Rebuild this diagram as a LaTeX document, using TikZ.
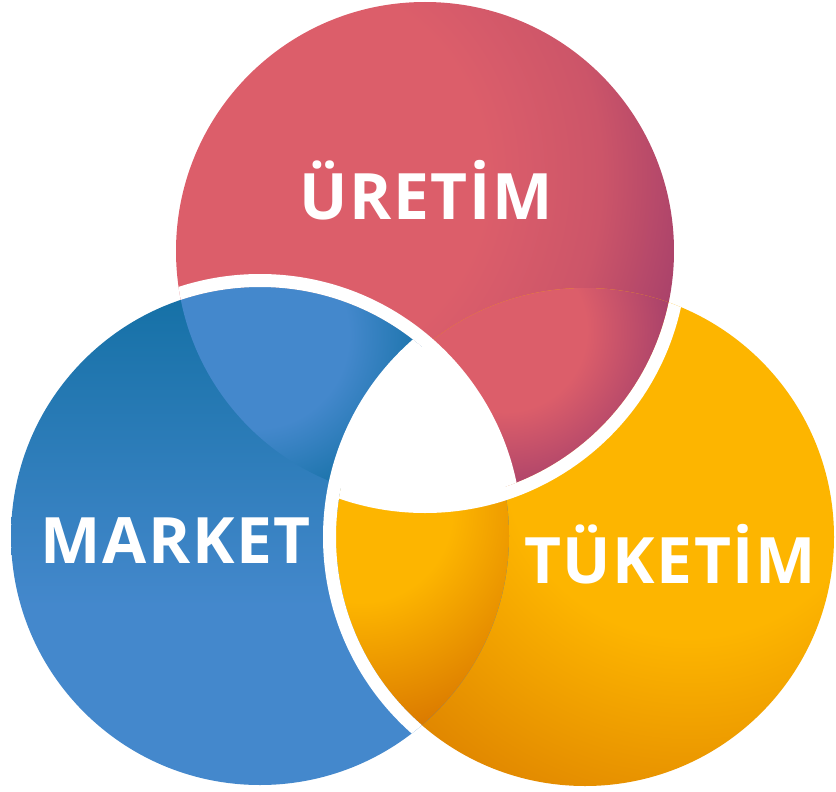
\documentclass[tikz,border=0pt]{standalone}
\usepackage{fontspec}
\newfontfamily\lblfont{Open Sans}[LetterSpace=2.5]
\definecolor{redA}{HTML}{DC5E6A}
\definecolor{redM}{HTML}{CC5569}
\definecolor{redB}{HTML}{A6406A}
\definecolor{blueL}{HTML}{4488CC}
\definecolor{blueD}{HTML}{1470A5}
\definecolor{yelL}{HTML}{FDB500}
\definecolor{yelD}{HTML}{E08600}
\definecolor{yelDD}{HTML}{D97700}
\pgfdeclareradialshading{redmain}{\pgfpoint{0bp}{0bp}}{color(0bp)=(redA); color(12bp)=(redA); color(19bp)=(redM); color(25bp)=(redB); color(50bp)=(redB)}
\pgfdeclareradialshading{redlens}{\pgfpoint{0bp}{0bp}}{color(0bp)=(redA); color(12bp)=(redA); color(25bp)=(redB); color(50bp)=(redB)}
\pgfdeclareverticalshading{bluemain}{100bp}{color(0bp)=(blueL); color(25bp)=(blueL); color(43bp)=(blueL); color(75bp)=(blueD); color(100bp)=(blueD)}
\pgfdeclareradialshading{bluelens}{\pgfpoint{0bp}{0bp}}{color(0bp)=(blueL); color(13bp)=(blueL); color(25bp)=(blueD); color(50bp)=(blueD)}
\pgfdeclareradialshading{yelmain}{\pgfpoint{0bp}{0bp}}{color(0bp)=(yelL); color(12bp)=(yelL); color(25bp)=(yelD); color(50bp)=(yelD)}
\pgfdeclareradialshading{yellens}{\pgfpoint{0bp}{0bp}}{color(0bp)=(yelL); color(10bp)=(yelL); color(25bp)=(yelDD); color(50bp)=(yelDD)}
\begin{document}
\begin{tikzpicture}[x=1pt,y=-1pt,
  lbl/.style={text=white, font=\lblfont\bfseries\fontsize{64}{64}\selectfont, inner sep=0pt, anchor=base},
  gap/.style={draw=white, line width=13pt}]
\def\rr{249pt}
\def\rw{255.5pt}
\def\rt{250.5pt}
\useasboundingbox (0,0) rectangle (836,792);
\fill[white] (0,0) rectangle (836,792);
\coordinate (R) at (425,251);
\coordinate (B) at (260,536);
\coordinate (Y) at (585,537);
% main disks
\begin{scope}
  \clip (R) circle (\rr);
  \shade[shading=redmain] (290,175) circle (410pt);
\end{scope}
\begin{scope}
  \clip (Y) circle (\rr);
  \shade[shading=yelmain] (690,450) circle (390pt);
\end{scope}
\begin{scope}
  \clip (B) circle (\rr);
  \shade[shading=bluemain] (11,287) rectangle (509,785);
\end{scope}
% lenses
\begin{scope}
  \clip (R) circle (\rr);
  \clip (Y) circle (\rr);
  \shade[shading=redlens] (505,330) circle (170pt);
\end{scope}
\begin{scope}
  \clip (B) circle (\rr);
  \clip (Y) circle (\rr);
  \shade[shading=yellens] (360,510) circle (230pt);
\end{scope}
\begin{scope}
  \clip (R) circle (\rr);
  \clip (B) circle (\rr);
  \shade[shading=bluelens] (255,335) circle (180pt);
\end{scope}
% white gaps
\begin{scope}
  \clip (R) circle (\rr);
  \draw[gap] (B) circle (\rw);
\end{scope}
\begin{scope}
  \clip (Y) circle (\rr);
  \draw[gap] (R) circle (\rw);
\end{scope}
\begin{scope}
  \clip (B) circle (\rr);
  \draw[gap] (Y) circle (\rw);
\end{scope}
\begin{scope}
  \clip (R) circle (\rt);
  \clip (B) circle (\rt);
  \fill[white] (Y) circle (\rt);
\end{scope}
% labels
\node[lbl] (uretim) at (426,219) {ÜRETİM};
\node[lbl] (market) at (176,563) {MARKET};
\node[lbl] (tuketim) at (670,583) {TÜKETİM};
\end{tikzpicture}
\end{document}
